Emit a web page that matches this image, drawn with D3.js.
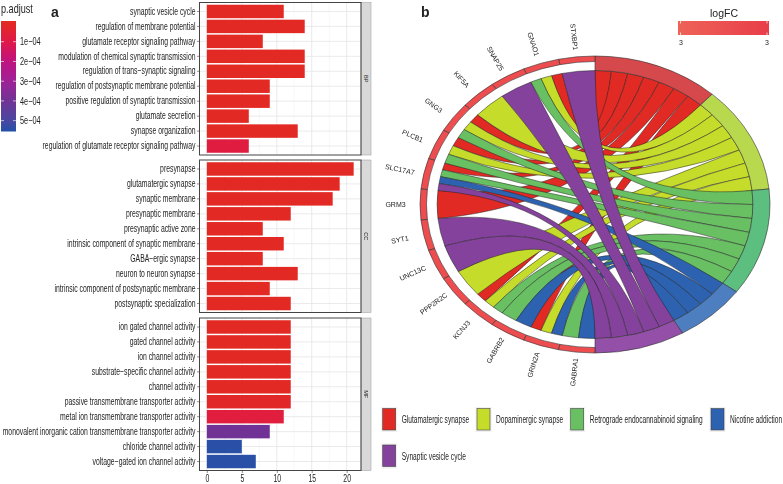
<!DOCTYPE html>
<html>
<head>
<meta charset="utf-8">
<style>
    html, body { margin: 0; background: #fff; }
    svg { display: block; opacity: 0.999; }
    text { fill: #222; font-family: "Liberation Sans", sans-serif; }
</style>
<script src="https://cdn.jsdelivr.net/npm/d3@7"></script>
</head>
<body>
<div id="chart"></div>
<script>
// panel a: enrichment bars
const bpTerms = ["synaptic vesicle cycle", "regulation of membrane potential", "glutamate receptor signaling pathway",
    "modulation of chemical synaptic transmission", "regulation of trans\u2212synaptic signaling",
    "regulation of postsynaptic membrane potential", "positive regulation of synaptic transmission",
    "glutamate secretion", "synapse organization", "regulation of glutamate receptor signaling pathway"];
const bpCounts = [11, 14, 8, 14, 14, 9, 9, 6, 13, 6];
const bpPvals = [1e-5, 1e-5, 1e-5, 1e-5, 1e-5, 1e-5, 1e-5, 1e-5, 1e-5, 9e-5];

const ccTerms = ["presynapse", "glutamatergic synapse", "synaptic membrane", "presynaptic membrane",
    "presynaptic active zone", "intrinsic component of synaptic membrane", "GABA\u2212ergic synapse",
    "neuron to neuron synapse", "intrinsic component of postsynaptic membrane", "postsynaptic specialization"];
const ccCounts = [21, 19, 18, 12, 8, 11, 8, 13, 9, 12];
const ccPvals = [1e-5, 1e-5, 1e-5, 1e-5, 1e-5, 1e-5, 1e-5, 1e-5, 1e-5, 1e-5];

const mfTerms = ["ion gated channel activity", "gated channel activity", "ion channel activity",
    "substrate\u2212specific channel activity", "channel activity", "passive transmembrane transporter activity",
    "metal ion transmembrane transporter activity", "monovalent inorganic cation transmembrane transporter activity",
    "chloride channel activity", "voltage\u2212gated ion channel activity"];
const mfCounts = [12, 12, 12, 12, 12, 12, 11, 9, 5, 7];
const mfPvals = [1e-5, 1e-5, 1e-5, 1e-5, 1e-5, 2e-5, 8e-5, 4e-4, 5.5e-4, 5.5e-4];

const xTicks = [0, 5, 10, 15, 20];
const pTicks = [1e-4, 2e-4, 3e-4, 4e-4, 5e-4];
const pTickLabels = ["1e\u221204", "2e\u221204", "3e\u221204", "4e\u221204", "5e\u221204"];
const pStops = [0, 1e-4, 2e-4, 3e-4, 4e-4, 5.55e-4];
const pColors = ["#e32a20", "#e01a44", "#c01080", "#a02098", "#703294", "#2450a8"];

// panel b: chord diagram
const pathways = ["Glutamatergic synapse", "Dopaminergic synapse", "Retrograde endocannabinoid signaling",
    "Nicotine addiction", "Synaptic vesicle cycle"];
const pathwayRing = ["#d5494c", "#b8d84e", "#5cbf80", "#4d7fc0", "#9450a8"];
const pathwayFill = ["#e02a23", "#c6dc2a", "#68c062", "#2c62b0", "#84429c"];
const genes = ["STXBP1", "GNAO1", "SNAP25", "KIF5A", "GNG3", "PLCB1", "SLC17A7", "GRM3", "SYT1", "UNC13C",
    "PPP2R2C", "KCNJ3", "GABRB2", "GRIN2A", "GABRA1"];
// pathway indexes each gene belongs to, in gene order
const genePathways = [[4], [0, 1, 2], [4], [1], [0, 1, 2], [0, 1, 2], [0, 2, 3, 4], [0], [4], [4],
    [1], [0, 1, 2], [2, 3], [0, 1, 3], [2, 3]];

const width = 783, height = 484;
const svg = d3.select("#chart").append("svg").attr("width", width).attr("height", height);

// the figure has condensed type, so squeeze the text sideways
function narrow(sel, squeeze) {
    sel.each(function () {
        let t = d3.select(this);
        let px = +t.attr("x") || 0;
        let py = +t.attr("y") || 0;
        t.attr("x", 0).attr("y", 0)
            .attr("transform", "translate(" + px + "," + py + ") scale(" + squeeze + ",1)");
    });
}

// ---------- panel a ----------
const x = d3.scaleLinear().domain([-1.05, 22.05]).range([199.5, 361]);
const color = d3.scaleLinear().domain(pStops).range(pColors).interpolate(d3.interpolateLab);

const facets = [
    {name: "BP", terms: bpTerms, counts: bpCounts, pvals: bpPvals, top: 2.5, bottom: 155},
    {name: "CC", terms: ccTerms, counts: ccCounts, pvals: ccPvals, top: 160, bottom: 312.5},
    {name: "MF", terms: mfTerms, counts: mfCounts, pvals: mfPvals, top: 318, bottom: 470.5}
];

facets.forEach(function (f) {
    let y = d3.scaleBand().domain(f.terms).range([f.top, f.bottom]).paddingInner(0.1).paddingOuter(0.15);
    let g = svg.append("g");

    // grid lines
    g.selectAll(".minor").data([2.5, 7.5, 12.5, 17.5]).enter().append("line")
        .attr("x1", d => x(d)).attr("x2", d => x(d))
        .attr("y1", f.top).attr("y2", f.bottom)
        .attr("stroke", "#f2f2f2").attr("stroke-width", 0.6);
    g.selectAll(".major").data(xTicks).enter().append("line")
        .attr("x1", d => x(d)).attr("x2", d => x(d))
        .attr("y1", f.top).attr("y2", f.bottom)
        .attr("stroke", "#e8e8e8").attr("stroke-width", 0.9);
    g.selectAll(".hgrid").data(f.terms).enter().append("line")
        .attr("x1", x.range()[0]).attr("x2", x.range()[1])
        .attr("y1", d => y(d) + y.bandwidth() / 2).attr("y2", d => y(d) + y.bandwidth() / 2)
        .attr("stroke", "#e8e8e8").attr("stroke-width", 0.9);

    // bars
    g.selectAll(".bar").data(f.terms).enter().append("rect")
        .attr("class", "bar")
        .attr("x", x(0))
        .attr("y", d => y(d))
        .attr("width", (d, i) => x(f.counts[i]) - x(0))
        .attr("height", y.bandwidth())
        .attr("fill", (d, i) => color(f.pvals[i]));

    // panel border and strip
    g.append("rect").attr("x", 361).attr("y", f.top).attr("width", 10).attr("height", f.bottom - f.top)
        .attr("fill", "#d9d9d9").attr("stroke", "#999").attr("stroke-width", 0.5);
    g.append("rect").attr("x", 199.5).attr("y", f.top).attr("width", 161.5).attr("height", f.bottom - f.top)
        .attr("fill", "none").attr("stroke", "#444").attr("stroke-width", 1);
    g.append("text")
        .attr("transform", "translate(366," + (f.top + f.bottom) / 2 + ") rotate(90)")
        .attr("text-anchor", "middle").attr("dy", "0.35em")
        .style("font-size", "5.5px").text(f.name);

    // y axis
    let yAxis = g.append("g")
        .attr("transform", "translate(199.5,0)")
        .call(d3.axisLeft(y).tickSize(2.5).tickPadding(1.5));
    yAxis.select(".domain").remove();
    yAxis.selectAll("line").attr("stroke", "#444").attr("stroke-width", 0.6);
    yAxis.selectAll("text").attr("font-size", 10).attr("font-family", null).style("fill", "#222");
    narrow(yAxis.selectAll("text"), 0.685);

    if (f.name === "MF") {
        let xAxis = g.append("g")
            .attr("transform", "translate(0," + f.bottom + ")")
            .call(d3.axisBottom(x).tickValues(xTicks).tickSize(2.5).tickPadding(1.5));
        xAxis.select(".domain").remove();
        xAxis.selectAll("line").attr("stroke", "#444").attr("stroke-width", 0.6);
        xAxis.selectAll("text").attr("font-size", 10).attr("font-family", null).style("fill", "#222");
        narrow(xAxis.selectAll("text"), 0.685);
    }
});

// p.adjust colour bar
const defs = svg.append("defs");
const grad = defs.append("linearGradient").attr("id", "pGrad").attr("x1", 0).attr("x2", 0).attr("y1", 0).attr("y2", 1);
d3.range(0, 1.01, 0.1).forEach(function (t) {
    grad.append("stop").attr("offset", t).attr("stop-color", color(t * 5.55e-4));
});
const pY = d3.scaleLinear().domain([0, 5.55e-4]).range([22, 131.5]);
const legendA = svg.append("g");
legendA.append("text").attr("x", 1).attr("y", 13).style("font-size", "13px").text("p.adjust");
legendA.append("rect").attr("x", 1).attr("y", 21).attr("width", 15).attr("height", 110.5).attr("fill", "url(#pGrad)");
legendA.selectAll(".ptick").data(pTicks).enter().append("path")
    .attr("d", d => "M1," + pY(d) + "h3M13," + pY(d) + "h3")
    .attr("stroke", "#fff").attr("stroke-width", 0.7).attr("opacity", 0.9);
legendA.selectAll(".plabel").data(pTicks).enter().append("text")
    .attr("x", 20).attr("y", d => pY(d)).attr("dy", "0.35em")
    .style("font-size", "10.5px")
    .text((d, i) => pTickLabels[i]);
narrow(legendA.selectAll("text"), 0.7);

svg.append("text").attr("x", 51).attr("y", 17)
    .style("font-weight", "bold").style("font-size", "14px").text("a");
svg.append("text").attr("x", 421).attr("y", 17)
    .style("font-weight", "bold").style("font-size", "14px").text("b");

// ---------- panel b ----------
const outerR = 148.5, geneInnerR = 143, ribbonR = 134;
const cx = 595, cy = 204.5, stretch = 175 / 148.5;
const deg = Math.PI / 180;

// the chord circle is drawn as a circle and stretched sideways like the figure
const chord = svg.append("g").attr("transform", "translate(" + cx + "," + cy + ") scale(" + stretch + ",1)");

const linkCount = d3.sum(genePathways, d => d.length);
const termStep = 180 / linkCount;
const geneStep = 180 / genes.length;

// walk the pathways and genes to work out both ends of every ribbon
let links = [];
let termAngle = 0;
let termArcs = [];
pathways.forEach(function (p, pi) {
    let start = termAngle;
    genes.forEach(function (gene, gi) {
        let own = genePathways[gi];
        let k = own.indexOf(pi);
        if (k < 0) return;
        let size = geneStep / own.length;
        let a0 = gi * geneStep + k * size;
        links.push({
            pathway: pi,
            source: {startAngle: termAngle * deg, endAngle: (termAngle + termStep) * deg},
            target: {startAngle: -(a0 + size) * deg, endAngle: -a0 * deg}
        });
        termAngle += termStep;
    });
    termArcs.push({pathway: pi, startAngle: start * deg, endAngle: termAngle * deg});
});

const ribbon = d3.ribbon().radius(ribbonR);
chord.selectAll(".link").data(links).enter().append("path")
    .attr("class", "link")
    .attr("d", ribbon)
    .attr("fill", d => pathwayFill[d.pathway])
    .attr("stroke", "#222")
    .attr("stroke-width", 0.5)
    .attr("vector-effect", "non-scaling-stroke");

const termArc = d3.arc().innerRadius(ribbonR).outerRadius(outerR);
chord.selectAll(".term").data(termArcs).enter().append("path")
    .attr("class", "term")
    .attr("d", termArc)
    .attr("fill", d => pathwayRing[d.pathway])
    .attr("stroke", "#333")
    .attr("stroke-width", 0.6)
    .attr("vector-effect", "non-scaling-stroke");

const geneArc = d3.arc().innerRadius(geneInnerR).outerRadius(outerR);
chord.selectAll(".gene").data(genes).enter().append("path")
    .attr("class", "gene")
    .attr("d", (d, i) => geneArc({startAngle: -(i + 1) * geneStep * deg, endAngle: -i * geneStep * deg}))
    .attr("fill", "#ee4d50")
    .attr("stroke", "#333")
    .attr("stroke-width", 0.6)
    .attr("vector-effect", "non-scaling-stroke");

// gene labels follow the stretched circle
svg.selectAll(".gene-label").data(genes).enter().append("text")
    .attr("class", "gene-label")
    .attr("transform", function (d, i) {
        let t = (i + 0.5) * geneStep;
        let px = cx - 175 * 1.14 * Math.sin(t * deg);
        let py = cy - 148.5 * 1.135 * Math.cos(t * deg);
        return "translate(" + px + "," + py + ") rotate(" + (90 - t) + ")";
    })
    .attr("text-anchor", "middle").attr("dy", "0.35em")
    .style("font-size", "7px")
    .text(d => d);

// logFC legend
const fcGrad = defs.append("linearGradient").attr("id", "fcGrad");
fcGrad.append("stop").attr("offset", 0).attr("stop-color", "#ee6358");
fcGrad.append("stop").attr("offset", 1).attr("stop-color", "#e83d49");
svg.append("rect").attr("x", 678).attr("y", 21).attr("width", 91).attr("height", 14).attr("fill", "url(#fcGrad)");
svg.selectAll(".fc-tick").data([680.5, 767]).enter().append("path")
    .attr("d", d => "M" + d + ",21v2.5M" + d + ",32.5v2.5")
    .attr("stroke", "#fff").attr("stroke-width", 0.7);
svg.append("text").attr("x", 724).attr("y", 17).attr("text-anchor", "middle")
    .style("font-size", "10.5px").text("logFC");
svg.selectAll(".fc-label").data([681, 767]).enter().append("text")
    .attr("x", d => d).attr("y", 45).attr("text-anchor", "middle")
    .style("font-size", "7px").text("3");

// pathway legend
const keyX = [382.7, 477, 570.7, 711, 382.7];
const keyY = [408.5, 408.5, 408.5, 408.5, 445];
const key = svg.append("g");
pathways.forEach(function (p, i) {
    key.append("rect").attr("x", keyX[i] - 1.5).attr("y", keyY[i] - 1.5).attr("width", 16).attr("height", 25)
        .attr("fill", "#f0f0f0");
    key.append("rect").attr("x", keyX[i]).attr("y", keyY[i]).attr("width", 13).attr("height", 21.5)
        .attr("fill", pathwayFill[i]).attr("stroke", "#444").attr("stroke-width", 0.6);
    key.append("text").attr("class", "key-label").attr("x", keyX[i] + 19).attr("y", keyY[i] + 11).attr("dy", "0.35em")
        .style("font-size", "10px").text(p);
});
narrow(key.selectAll(".key-label"), 0.66);
</script>
</body>
</html>
